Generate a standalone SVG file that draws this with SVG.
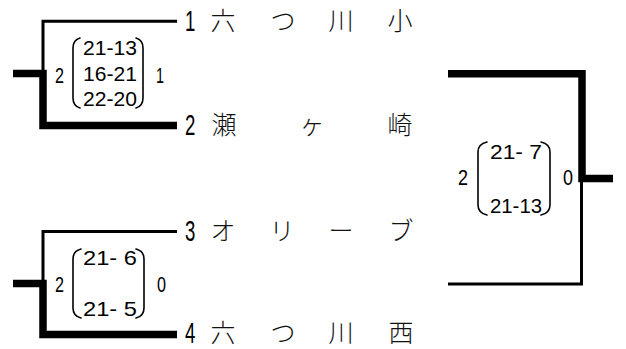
<svg xmlns="http://www.w3.org/2000/svg" width="626" height="349" viewBox="0 0 626 349">
<style>
.thin{fill:none;stroke:#000;stroke-width:3;stroke-linejoin:miter;stroke-linecap:butt}
.thick{fill:none;stroke:#000;stroke-width:7.5;stroke-linejoin:miter;stroke-linecap:butt}
.paren{fill:none;stroke:#000;stroke-width:1.6;stroke-linecap:round}
.seed{font-family:"Liberation Sans",Arial,sans-serif;font-size:30px;fill:#000}
.name{font-family:"Noto Sans CJK JP","Noto Sans CJK SC",sans-serif;font-size:25px;font-weight:300;fill:#111;text-anchor:middle}
.score{font-family:"Liberation Sans",Arial,sans-serif;font-size:21px;fill:#000}
.side{font-family:"Liberation Sans",Arial,sans-serif;font-size:22px;fill:#000}
</style>
<rect width="626" height="349" fill="#fff"/>
<g id="connectors">
  <path class="thin" d="M177,21.3 H43 V74"/>
  <path class="thick" d="M13,73.5 H43 V125.5 H177"/>
  <path class="thin" d="M177,231.5 H43 V284"/>
  <path class="thick" d="M13,283.5 H43 V334.5 H177"/>
  <path class="thick" d="M448,73.8 H582 V178.5 H613"/>
  <path class="thin" d="M581.5,178.5 V284 H448"/>
</g>
<g id="team1">
  <text class="seed" transform="translate(185,30.5) scale(0.62,1)">1</text>
  <text class="name" x="223" y="30">六</text>
  <text class="name" x="283" y="30">つ</text>
  <text class="name" x="341" y="30">川</text>
  <text class="name" x="400" y="30">小</text>
</g>
<g id="team2">
  <text class="seed" transform="translate(185,135) scale(0.62,1)">2</text>
  <text class="name" x="224" y="134">瀬</text>
  <text class="name" x="312" y="134">ヶ</text>
  <text class="name" x="400" y="134">崎</text>
</g>
<g id="team3">
  <text class="seed" transform="translate(185,241) scale(0.62,1)">3</text>
  <text class="name" x="223" y="240">オ</text>
  <text class="name" x="282" y="240">リ</text>
  <text class="name" x="341" y="240">ー</text>
  <text class="name" x="401" y="240">ブ</text>
</g>
<g id="team4">
  <text class="seed" transform="translate(185,342.5) scale(0.62,1)">4</text>
  <text class="name" x="223" y="341.5">六</text>
  <text class="name" x="283" y="341.5">つ</text>
  <text class="name" x="341" y="341.5">川</text>
  <text class="name" x="401" y="341.5">西</text>
</g>
<g id="match1">
  <text class="side" x="55" y="82.5" textLength="9" lengthAdjust="spacingAndGlyphs">2</text>
  <path class="paren" d="M80,38 Q73,40 73,48 V98 Q73,106 80,108"/>
  <text class="score" x="83" y="55" textLength="54" lengthAdjust="spacingAndGlyphs">21-13</text>
  <text class="score" x="83" y="81" textLength="54" lengthAdjust="spacingAndGlyphs">16-21</text>
  <text class="score" x="83" y="106" textLength="54" lengthAdjust="spacingAndGlyphs">22-20</text>
  <path class="paren" d="M136,38 Q143,40 143,48 V98 Q143,106 136,108"/>
  <text class="side" x="156" y="82.5" textLength="8" lengthAdjust="spacingAndGlyphs">1</text>
</g>
<g id="match2">
  <text class="side" x="55" y="292" textLength="9" lengthAdjust="spacingAndGlyphs">2</text>
  <path class="paren" d="M81,249 Q73,251 73,259 V308 Q73,316 81,318"/>
  <text class="score" x="83" y="265" textLength="54" lengthAdjust="spacingAndGlyphs">21- 6</text>
  <text class="score" x="83" y="316" textLength="54" lengthAdjust="spacingAndGlyphs">21- 5</text>
  <path class="paren" d="M136,249 Q144,251 144,259 V308 Q144,316 136,318"/>
  <text class="side" x="157" y="292" textLength="9" lengthAdjust="spacingAndGlyphs">0</text>
</g>
<g id="match3">
  <text class="side" x="458" y="185" textLength="10" lengthAdjust="spacingAndGlyphs">2</text>
  <path class="paren" d="M487,142 Q478,144 478,152 V205 Q478,213 487,215"/>
  <text class="score" x="490" y="159" textLength="52" lengthAdjust="spacingAndGlyphs">21- 7</text>
  <text class="score" x="490" y="213" textLength="52" lengthAdjust="spacingAndGlyphs">21-13</text>
  <path class="paren" d="M541,142 Q550,144 550,152 V205 Q550,213 541,215"/>
  <text class="side" x="563" y="185" textLength="10" lengthAdjust="spacingAndGlyphs">0</text>
</g>
</svg>
